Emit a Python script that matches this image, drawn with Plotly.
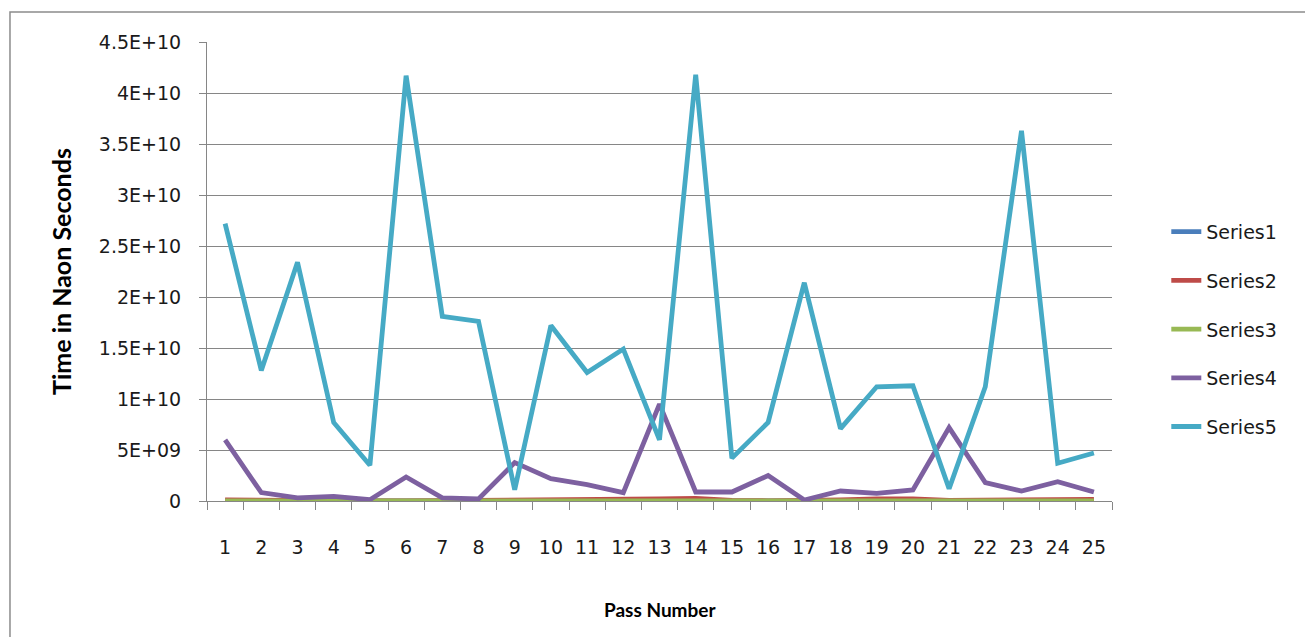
import plotly.graph_objects as go

# Pass numbers on the category axis
passes = list(range(1, 26))

# Timings per pass (nanoseconds)
series1 = [2e7, 1e7, 1e7, 1e7, 0, 0, 1e7, 1e7, 1e7, 1e7, 1e7, 1e7, 2e7,
           2e7, 1e7, 0, 0, 1e7, 1e7, 1e7, 1e7, 1e7, 1e7, 1e7, 1e7]
series2 = [1.0e8, 5e7, 5e7, 5e7, 0, 0, 2e7, 1.0e8, 1.0e8, 1.0e8, 5e7, 1.0e8, 2.0e8,
           2.5e8, 5e7, 2e7, 2e7, 1.0e8, 2.0e8, 2.0e8, 5e7, 5e7, 1.5e8, 1.5e8, 1.5e8]
series3 = [1e7, 1e7, 1e7, 1e7, 0, 0, 1e7, 1e7, 1e7, 1e7, 1e7, 1e7, 1e7,
           1e7, 1e7, 0, 0, 1e7, 1e7, 1e7, 1e7, 1e7, 1e7, 1e7, 1e7]
series4 = [6.0e9, 8.2e8, 3.0e8, 4.5e8, 1.3e8, 2.35e9, 3.0e8, 2.0e8, 3.76e9, 2.19e9,
           1.6e9, 8.2e8, 9.5e9, 8.8e8, 8.8e8, 2.5e9, 1.0e8, 9.8e8, 7.5e8, 1.08e9,
           7.2e9, 1.8e9, 9.8e8, 1.9e9, 8.8e8]
series5 = [2.72e10, 1.28e10, 2.34e10, 7.7e9, 3.5e9, 4.17e10, 1.81e10, 1.76e10, 1.1e9,
           1.72e10, 1.26e10, 1.49e10, 6.0e9, 4.18e10, 4.2e9, 7.7e9, 2.14e10, 7.1e9,
           1.12e10, 1.13e10, 1.2e9, 1.12e10, 3.63e10, 3.7e9, 4.7e9]

series_names = ["Series1", "Series2", "Series3", "Series4", "Series5"]
series_values = [series1, series2, series3, series4, series5]
series_colors = ["#4A7EBB", "#BE4B48", "#98B954", "#7D60A0", "#46AAC5"]

# Value-axis ticks and their labels
y_tickvals = [0, 5e9, 1e10, 1.5e10, 2e10, 2.5e10, 3e10, 3.5e10, 4e10, 4.5e10]
y_ticktext = ["0", "5E+09", "1E+10", "1.5E+10", "2E+10", "2.5E+10",
              "3E+10", "3.5E+10", "4E+10", "4.5E+10"]

GRID = "#868686"
TEXT = "#1a1a1a"
TICK_FONT = dict(family="DejaVu Sans", size=19, color=TEXT)

fig = go.Figure()
for name, vals, col in zip(series_names, series_values, series_colors):
    fig.add_trace(go.Scatter(
        x=passes, y=vals, name=name, mode="lines",
        line=dict(color=col, width=4.8, shape="linear"),
        legendgroup=name,
    ))

fig.update_layout(
    width=1305, height=637,
    margin=dict(l=207, r=193, t=42, b=136),
    paper_bgcolor="white", plot_bgcolor="white",
    showlegend=True,
    legend=dict(
        x=1.06, y=0.374, xanchor="left", yanchor="middle",
        font=dict(family="DejaVu Sans", size=19, color=TEXT),
        tracegroupgap=21, bgcolor="rgba(0,0,0,0)",
    ),
    xaxis=dict(
        range=[0.5, 25.5], tickmode="array", tickvals=passes,
        ticktext=[str(p) for p in passes],
        ticks="", showgrid=False, zeroline=False,
        showline=True, linecolor=GRID, linewidth=1,
        tickfont=TICK_FONT, ticklabelstandoff=29,
        minor=dict(tickmode="array", tickvals=[p - 0.5 for p in passes] + [25.5],
                   ticks="outside", ticklen=8, tickcolor=GRID, tickwidth=1,
                   showgrid=False),
    ),
    yaxis=dict(
        range=[0, 4.5e10], tickmode="array", tickvals=y_tickvals, ticktext=y_ticktext,
        ticks="outside", ticklen=7, tickcolor=GRID, tickwidth=1,
        showgrid=True, gridcolor=GRID, gridwidth=1, zeroline=False,
        showline=True, linecolor=GRID, linewidth=1,
        tickfont=TICK_FONT, ticklabelstandoff=14,
    ),
    annotations=[
        dict(text="<b>Time in Naon Seconds</b>", xref="paper", yref="paper",
             x=-0.162, y=0.5, textangle=-90, showarrow=False,
             xanchor="center", yanchor="middle",
             font=dict(family="Lato", size=25, color="black")),
        dict(text="<b>Pass Number</b>", xref="paper", yref="paper",
             x=0.5, y=-0.237, showarrow=False,
             xanchor="center", yanchor="middle",
             font=dict(family="Lato", size=19, color="black")),
    ],
    shapes=[
        dict(type="rect", xref="paper", yref="paper",
             x0=-0.2177, x1=1.5, y0=-0.5, y1=1.0654,
             line=dict(color="#8c8c8c", width=1.5), layer="below"),
    ],
)

fig.write_html("out.html")
